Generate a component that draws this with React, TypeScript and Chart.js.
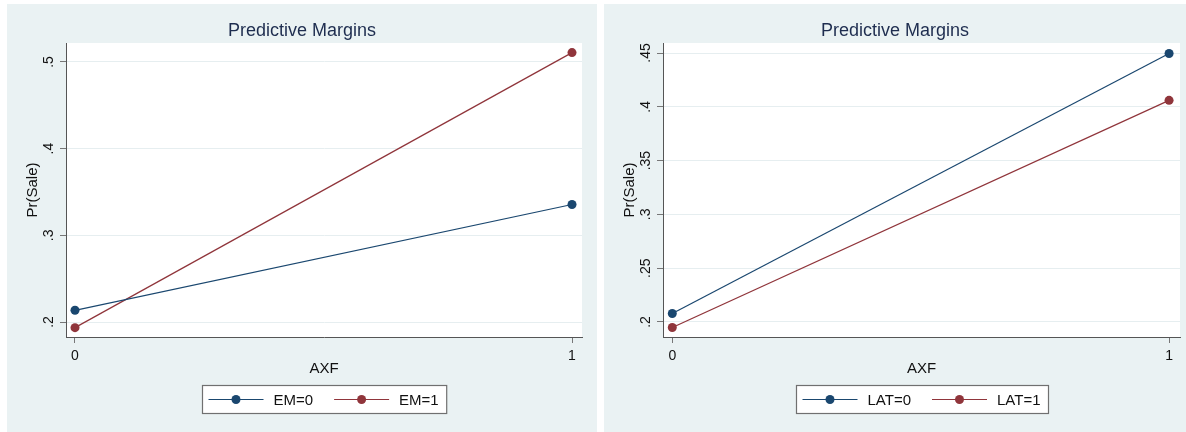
import React, { useEffect, useRef } from "react";
import { Chart, registerables } from "chart.js";

Chart.register(...registerables);

// ---- data ----
const xCategories = [0, 1];
const emLabels = ["EM=0", "EM=1"];
const em0Values = [0.2135, 0.3356];
const em1Values = [0.1935, 0.5108];
const latLabels = ["LAT=0", "LAT=1"];
const lat0Values = [0.2078, 0.4495];
const lat1Values = [0.1948, 0.406];
const leftYTicks = [0.2, 0.3, 0.4, 0.5];
const rightYTicks = [0.2, 0.25, 0.3, 0.35, 0.4, 0.45];
const chartTitle = "Predictive Margins";
const xTitle = "AXF";
const yTitle = "Pr(Sale)";

const FONT = "'Liberation Sans', Arial, sans-serif";
const BLUE = "#1a476f";
const RED = "#90353b";
const BG = "#eaf2f3";

const fmtTick = (v: number) => {
  const s = String(Math.round(v * 1000) / 1000);
  return s.startsWith("0.") ? s.slice(1) : s;
};

const stataPlugin = {
  id: "stataDecor",
  beforeDraw(chart: any) {
    const { ctx, chartArea: a } = chart;
    ctx.save();
    ctx.fillStyle = "#ffffff";
    ctx.fillRect(a.left, a.top, a.right - a.left, a.bottom - a.top);
    ctx.restore();
  },
  afterDraw(chart: any) {
    const { ctx, chartArea: a, width } = chart;
    ctx.save();
    // title
    ctx.font = `18px ${FONT}`;
    ctx.fillStyle = "#1e2d4f";
    ctx.textAlign = "center";
    ctx.textBaseline = "middle";
    ctx.fillText(chartTitle, width / 2, 27.5);

    // legend
    const ds = chart.data.datasets;
    ctx.font = `15px ${FONT}`;
    const widths = ds.map((d: any) => ctx.measureText(d.label).width);
    const padL = 6, lineLen = 55, gap = 10, itemGap = 21, padR = 8;
    let total = padL + padR + itemGap * (ds.length - 1);
    ds.forEach((d: any, i: number) => (total += lineLen + gap + widths[i]));
    const cx = (a.left + a.right) / 2;
    const bx = Math.round(cx - total / 2) + 0.5;
    const by = 381.5;
    const bh = 28;
    ctx.fillStyle = "#ffffff";
    ctx.fillRect(bx, by, total, bh);
    ctx.strokeStyle = "#707070";
    ctx.lineWidth = 1.2;
    ctx.strokeRect(bx, by, total, bh);
    const cy = by + bh / 2;
    let x = bx + padL;
    ds.forEach((d: any, i: number) => {
      ctx.strokeStyle = d.borderColor;
      ctx.lineWidth = 1.2;
      ctx.beginPath();
      ctx.moveTo(x, cy);
      ctx.lineTo(x + lineLen, cy);
      ctx.stroke();
      ctx.fillStyle = d.borderColor;
      ctx.beginPath();
      ctx.arc(x + lineLen / 2, cy, 4.5, 0, Math.PI * 2);
      ctx.fill();
      ctx.fillStyle = "#111111";
      ctx.textAlign = "left";
      ctx.textBaseline = "middle";
      ctx.fillText(d.label, x + lineLen + gap, cy + 1);
      x += lineLen + gap + widths[i] + itemGap;
    });
    ctx.restore();
  },
};

type PanelProps = {
  left: number;
  width: number;
  labels: string[];
  series: number[][];
  yTicks: number[];
  yMin: number;
  yMax: number;
  xMin: number;
  xMax: number;
  rightPad: number;
  yTickPad: number;
};

function Panel(p: PanelProps) {
  const ref = useRef<HTMLCanvasElement | null>(null);
  useEffect(() => {
    if (!ref.current) return;
    const colors = [BLUE, RED];
    const chart = new Chart(ref.current, {
      type: "line",
      data: {
        datasets: p.series.map((vals, i) => ({
          label: p.labels[i],
          data: xCategories.map((x, j) => ({ x, y: vals[j] })),
          borderColor: colors[i],
          backgroundColor: colors[i],
          pointBackgroundColor: colors[i],
          pointBorderWidth: 0,
          pointRadius: 4.5,
          borderWidth: 1.2,
          clip: false as any,
        })),
      },
      options: {
        animation: false,
        responsive: true,
        maintainAspectRatio: false,
        layout: { padding: { left: 0, top: 39, right: p.rightPad, bottom: 55 } },
        plugins: { legend: { display: false }, title: { display: false }, tooltip: { enabled: false } },
        scales: {
          x: {
            type: "linear",
            min: p.xMin,
            max: p.xMax,
            afterBuildTicks: (s: any) => {
              s.ticks = xCategories.map((v) => ({ value: v }));
            },
            afterFit: (s: any) => {
              s.height = 40;
            },
            ticks: {
              callback: (v: any) => String(v),
              font: { family: FONT, size: 14 },
              color: "#111",
              padding: 5,
              maxRotation: 0,
              autoSkip: false,
            },
            grid: { drawOnChartArea: false, tickLength: 6, tickColor: "#777", color: "#777" },
            border: { color: "#555", width: 1 },
            title: {
              display: true,
              text: xTitle,
              font: { family: FONT, size: 15 },
              color: "#111",
              padding: { top: 0, bottom: -1 },
            },
          },
          y: {
            type: "linear",
            min: p.yMin,
            max: p.yMax,
            afterBuildTicks: (s: any) => {
              s.ticks = p.yTicks.map((v) => ({ value: v }));
            },
            afterFit: (s: any) => {
              s.width = 59;
            },
            ticks: {
              callback: (v: any) => fmtTick(Number(v)),
              font: { family: FONT, size: 14 },
              color: "#111",
              minRotation: 90,
              maxRotation: 90,
              crossAlign: "center",
              padding: p.yTickPad,
              autoSkip: false,
            },
            grid: { color: "#e6eef0", lineWidth: 1, tickLength: 6, tickColor: "#777" },
            border: { color: "#555", width: 1 },
            title: {
              display: true,
              text: yTitle,
              font: { family: FONT, size: 15 },
              color: "#111",
              padding: { top: 17, bottom: 0 },
            },
          },
        },
      },
      plugins: [stataPlugin],
    } as any);
    return () => chart.destroy();
  }, []);
  return (
    <div
      style={{
        position: "absolute",
        left: p.left,
        top: 4,
        width: p.width,
        height: 428,
        background: BG,
      }}
    >
      <canvas ref={ref} />
    </div>
  );
}

export default function App() {
  return (
    <div style={{ position: "absolute", left: 0, top: 0, width: 1186, height: 432, background: "#fff" }}>
      <Panel
        left={7}
        width={590}
        labels={emLabels}
        series={[em0Values, em1Values]}
        yTicks={leftYTicks}
        yMin={0.1827}
        yMax={0.5219}
        xMin={-0.0181}
        xMax={1.0201}
        rightPad={15}
        yTickPad={5}
      />
      <Panel
        left={604}
        width={582}
        labels={latLabels}
        series={[lat0Values, lat1Values]}
        yTicks={rightYTicks}
        yMin={0.186}
        yMax={0.4593}
        xMin={-0.0187}
        xMax={1.022}
        rightPad={6}
        yTickPad={1.3}
      />
    </div>
  );
}
